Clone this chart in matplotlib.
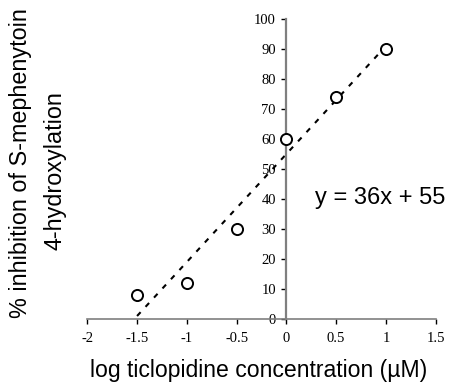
import matplotlib.pyplot as plt
import numpy as np

# log concentration vs percent inhibition
log_conc = [-1.5, -1.0, -0.5, 0.0, 0.5, 1.0]
inhibition = [8, 12, 30, 60, 74, 90]
slope, intercept = 36, 55

x_ticks = [-2, -1.5, -1, -0.5, 0, 0.5, 1, 1.5]
x_tick_labels = ['-2', '-1.5', '-1', '-0.5', '0', '0.5', '1', '1.5']
y_ticks = [0, 10, 20, 30, 40, 50, 60, 70, 80, 90, 100]

fig = plt.figure(figsize=(4.56, 3.88), dpi=100)
ax = fig.add_axes([87.3 / 456, 69 / 388, 348.4 / 456, 300 / 388])

fit_x = np.array([log_conc[0], log_conc[-1]])
ax.plot(fit_x, slope * fit_x + intercept, color='black', lw=1.5,
        dashes=(2.5, 3.5), zorder=2)
ax.plot(log_conc, inhibition, 'o', ms=8, mfc='white', mec='black',
        mew=1.4, zorder=3)

ax.set_xlim(-2, 1.5)
ax.set_ylim(0, 100)

for s in ['top', 'right']:
    ax.spines[s].set_visible(False)
ax.spines['left'].set_position(('data', 0))
ax.spines['left'].set_color('#7f7f7f')
ax.spines['left'].set_linewidth(1.6)
ax.spines['bottom'].set_color('#7f7f7f')
ax.spines['bottom'].set_linewidth(1.2)

ax.set_xticks(x_ticks)
ax.set_xticklabels(x_tick_labels, family='Liberation Serif', fontsize=10.5)
ax.set_yticks(y_ticks)
ax.set_yticklabels([str(v) for v in y_ticks], family='Liberation Serif',
                   fontsize=10.5)
ax.tick_params(axis='both', direction='out', length=3.5, width=1,
               color='black')
ax.tick_params(axis='x', pad=6)
ax.tick_params(axis='y', pad=4)

ax.text(315, 388 - 198, 'y = 36x + 55', transform=None, fontsize=17,
        family='Liberation Sans', va='center', ha='left')

fig.text(259 / 456, 1 - 370 / 388, 'log ticlopidine concentration (\u00b5M)',
         family='Liberation Sans', fontsize=16.6, ha='center', va='center')
fig.text(21 / 456, 1 - 163 / 388, '% inhibition of S-mephenytoin',
         family='Liberation Sans', fontsize=16.8, ha='center', va='center',
         rotation=90)
fig.text(55 / 456, 1 - 171 / 388, '4-hydroxylation',
         family='Liberation Sans', fontsize=16.8, ha='center', va='center',
         rotation=90)

fig.savefig('out.png', dpi=100)
